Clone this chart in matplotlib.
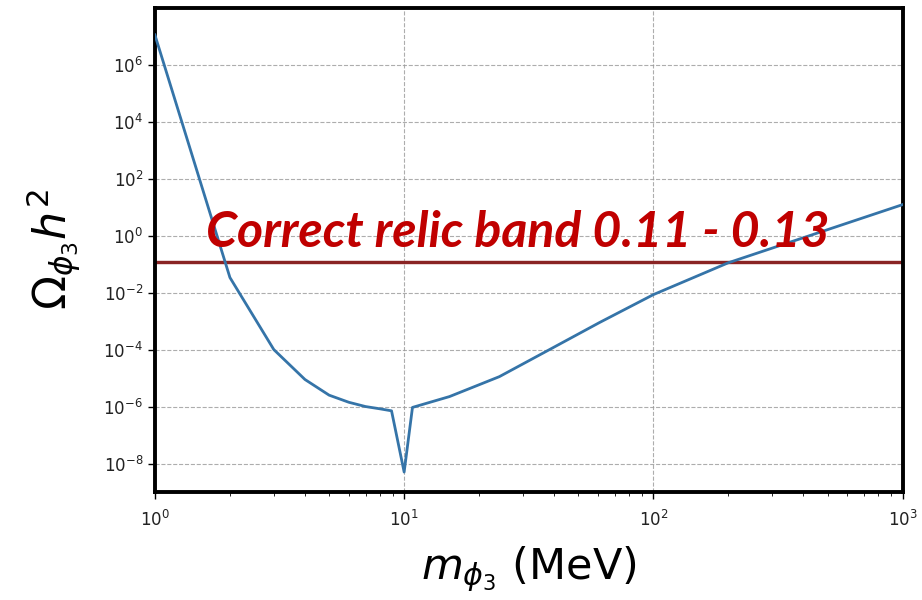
import numpy as np
import matplotlib
matplotlib.use("Agg")
import matplotlib.pyplot as plt
from matplotlib.ticker import FixedLocator, LogFormatterSciNotation, NullLocator

# relic density vs scalar mass
m_phi3 = [1.0, 2.0, 3.0, 4.0, 5.0, 6.0, 7.0, 8.0, 8.9, 10.0, 10.8,
          15.2, 24.1, 38.3, 60.8, 100.0, 200.0, 1000.0]
log_omega = [7.05, -1.47, -4.0, -5.05, -5.6, -5.85, -6.0, -6.08, -6.15, -8.3, -6.03,
             -5.65, -4.95, -4.0, -3.05, -2.07, -0.95, 1.09]
omega_h2 = [10.0 ** v for v in log_omega]

band_lo = 0.11
band_hi = 0.13
band_text = "Correct relic band 0.11 - 0.13"

ytick_vals = [10.0 ** p for p in range(-8, 7, 2)]

fig = plt.figure(figsize=(9.22, 6.0), dpi=100)
ax = fig.add_axes([0.168, 0.18, 0.811, 0.807])

ax.plot(m_phi3, omega_h2, color="#3574a8", lw=2.0, zorder=3)

# relic band
ax.axhspan(band_lo, band_hi, color="#8a2424", lw=0, zorder=2)
ax.axhline(band_lo, color="#8a2424", lw=1.0, zorder=2)
ax.axhline(band_hi, color="#8a2424", lw=1.0, zorder=2)

ax.text(28.5, 1.25, band_text, color="#c00000", fontsize=36,
        fontweight="bold", fontstyle="italic", family=["Lato", "DejaVu Sans"],
        ha="center", va="center", zorder=4)

ax.set_xscale("log")
ax.set_yscale("log")
ax.set_xlim(1, 1000)
ax.set_ylim(1e-9, 1e8)

ax.yaxis.set_major_locator(FixedLocator(ytick_vals))
ax.yaxis.set_major_formatter(LogFormatterSciNotation())
ax.yaxis.set_minor_locator(NullLocator())

ax.grid(True, which="major", ls="--", color="#999999", lw=0.8, alpha=0.8)
ax.tick_params(labelsize=12, width=1, length=5, labelcolor="#222222")
ax.tick_params(axis="x", pad=8)
ax.tick_params(which="minor", length=3)

for s in ax.spines.values():
    s.set_linewidth(2.8)

ax.set_xlabel(r"$m_{\phi_3}$ (MeV)", fontsize=31, labelpad=10)
ax.set_ylabel(r"$\Omega_{\phi_3}h^2$", fontsize=32, labelpad=14)

fig.savefig("out.png", dpi=100)
